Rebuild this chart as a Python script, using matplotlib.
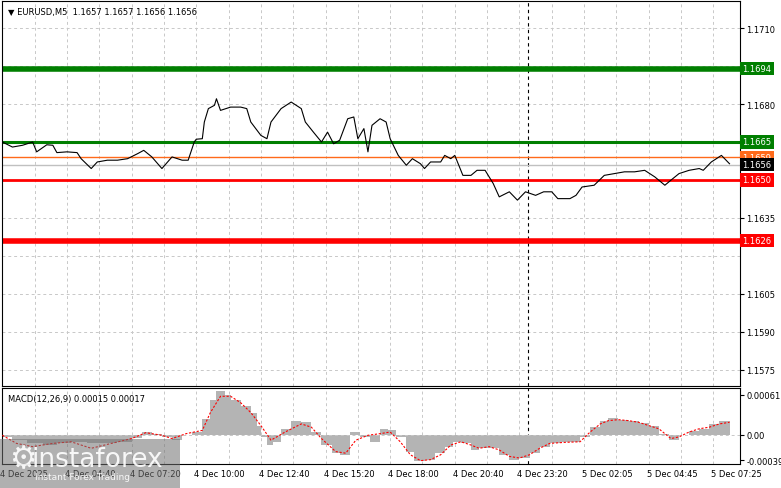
import numpy as np
import matplotlib.pyplot as plt
from matplotlib.patches import Rectangle

# price path (bar index, close)
price_bar = [0, 5, 10, 15, 17, 22, 25, 27, 32, 37, 39, 44, 47, 52, 57, 62, 67, 70, 74, 79, 84, 89, 92, 95, 96,
             99, 100, 102, 105, 106, 108, 113, 118, 121, 123, 128, 131, 133, 138, 143, 148, 150, 154, 158, 161,
             164, 167, 171, 174, 176, 179, 181, 183, 187, 190, 192, 196, 200, 203, 207, 209, 212, 217, 219, 222,
             224, 228, 232, 235, 239, 243, 246, 251, 255, 259, 264, 268, 272, 275, 281, 284, 287, 293, 298, 303,
             308, 313, 318, 323, 328, 331, 335, 340, 345, 347, 351, 356, 360]
price_val = [1.16650, 1.16630, 1.16637, 1.16650, 1.16611, 1.16639, 1.16637, 1.16608, 1.16611, 1.16608,
             1.16584, 1.16545, 1.16571, 1.16578, 1.16578, 1.16584, 1.16604, 1.16617, 1.16591, 1.16545,
             1.16591, 1.16578, 1.16578, 1.16650, 1.16661, 1.16663, 1.16729, 1.16782, 1.16795, 1.16821,
             1.16775, 1.16788, 1.16788, 1.16782, 1.16729, 1.16676, 1.16663, 1.16729, 1.16782, 1.16808,
             1.16782, 1.16729, 1.16689, 1.16650, 1.16689, 1.16643, 1.16657, 1.16742, 1.16749, 1.16663,
             1.16703, 1.16611, 1.16716, 1.16742, 1.16729, 1.16663, 1.16597, 1.16558, 1.16584, 1.16564,
             1.16545, 1.16571, 1.16571, 1.16597, 1.16584, 1.16597, 1.16518, 1.16518, 1.16538, 1.16538,
             1.16486, 1.16433, 1.16453, 1.16420, 1.16453, 1.16439, 1.16453, 1.16453, 1.16426, 1.16426,
             1.16439, 1.16472, 1.16479, 1.16518, 1.16525, 1.16532, 1.16532, 1.16538, 1.16512, 1.16479,
             1.16499, 1.16525, 1.16538, 1.16545, 1.16538, 1.16571, 1.16597, 1.16564]

# MACD histogram and signal (units of 1e-5)
hist_bar = [0, 5, 12, 20, 27, 34, 42, 49, 57, 64, 69, 74, 79, 84, 89, 94, 99, 103, 106, 110, 113, 118, 123,
            126, 128, 131, 134, 138, 143, 148, 153, 158, 163, 167, 172, 177, 182, 187, 191, 195, 200, 204, 209,
            214, 219, 223, 227, 232, 236, 241, 246, 251, 256, 261, 266, 271, 276, 281, 286, 291, 296, 300, 305,
            310, 315, 320, 325, 330, 335, 340, 345, 350, 355, 360]
hist_val = [-3.5, -8.5, -13.4, -15.9, -13.4, -10.9, -13.4, -13.4, -10.9, -5.0, 4.0, 1.5, -3.5, -8.5, -1.0,
            4.0, 23.9, 53.7, 66.2, 61.2, 53.7, 43.8, 33.8, 13.9, -3.5, -15.9, -10.9, 9.0, 21.4, 18.9, 4.0,
            -15.9, -28.4, -30.8, 4.0, -3.5, -10.9, 9.0, 6.5, -3.5, -25.9, -40.8, -38.3, -28.4, -18.4, -10.9,
            -13.4, -23.4, -20.9, -20.9, -30.8, -38.3, -35.8, -28.4, -18.4, -13.4, -11.9, -10.9, -3.5, 11.4,
            21.4, 24.9, 22.9, 21.4, 17.9, 13.9, 1.5, -8.5, -1.0, 5.0, 9.0, 16.4, 21.4, 21.4]
sig_bar = [0, 7, 15, 25, 34, 44, 54, 64, 71, 79, 84, 91, 99, 103, 108, 113, 118, 123, 128, 133, 140, 148,
           153, 158, 165, 170, 175, 181, 187, 192, 197, 202, 207, 212, 217, 222, 227, 232, 236, 241, 246, 251,
           256, 261, 266, 271, 278, 286, 291, 296, 300, 305, 310, 315, 320, 325, 331, 335, 340, 345, 350, 355, 360]
sig_val = [-1.0, -13.4, -18.4, -13.4, -10.9, -20.9, -13.4, -6.0, 3.0, -1.0, -6.0, 1.5, 6.5, 33.8, 58.7,
           58.7, 48.8, 33.8, 13.9, -8.5, 4.0, 16.4, 11.4, -6.0, -25.9, -28.4, -8.5, -1.0, 1.5, 4.0, -10.9,
           -30.8, -39.8, -38.3, -30.8, -15.9, -10.9, -15.9, -20.9, -18.4, -23.4, -33.3, -35.8, -30.8, -20.9,
           -13.4, -11.9, -10.9, 4.0, 16.4, 21.4, 22.9, 21.4, 18.9, 13.9, 9.0, -6.0, -3.5, 4.0, 9.0, 11.4,
           16.4, 18.9]

time_labels = ['4 Dec 2025', '4 Dec 04:40', '4 Dec 07:20', '4 Dec 10:00', '4 Dec 12:40', '4 Dec 15:20',
               '4 Dec 18:00', '4 Dec 20:40', '4 Dec 23:20', '5 Dec 02:05', '5 Dec 04:45', '5 Dec 07:25']
price_ticks = [1.1575, 1.1590, 1.1605, 1.1620, 1.1635, 1.1650, 1.1665, 1.1680, 1.1695, 1.1710]
shown_ticks = [1.1575, 1.1590, 1.1605, 1.1635, 1.1680, 1.1710]

# levels: value, colour, linewidth, label bg
levels = [(1.1694, '#007f00', 4, '#007f00'),
          (1.1665, '#007f00', 2.2, '#007f00'),
          (1.1659, '#ff6a1a', 1, '#ff6a1a'),
          (1.1656, '#c0c0c0', 1, 'black'),
          (1.1650, '#ff0000', 2, '#ff0000'),
          (1.1626, '#ff0000', 4, '#ff0000')]

n_bars = 365
fs = 6
fig = plt.figure(figsize=(7.81, 4.89), dpi=100)
ax = fig.add_axes([0.003, 0.2086, 0.944, 0.787])
ax2 = fig.add_axes([0.003, 0.049, 0.944, 0.155])

grid_kw = dict(color='#c8c8c8', linestyle=(0, (3, 3)), linewidth=0.7)
for a in (ax, ax2):
    a.set_xlim(0, n_bars)
    for b in range(16, n_bars, 16):
        a.axvline(b, zorder=0, **grid_kw)
    a.axvline(260, color='black', linestyle=(0, (3, 3)), linewidth=0.8, zorder=1)
    a.yaxis.tick_right()
    a.tick_params(axis='y', length=3, labelsize=fs, pad=2)
    a.set_xticks([])
    for s in a.spines.values():
        s.set_linewidth(0.8)

ax.set_ylim(1.15685, 1.17207)
for p in price_ticks:
    ax.axhline(p, zorder=0, **grid_kw)
ax.set_yticks(shown_ticks)
ax.set_yticklabels(['%.4f' % p for p in shown_ticks])
for val, col, lw, bg in levels:
    ax.axhline(val, color=col, linewidth=lw, zorder=2)
    ax.text(1.004, val, '%.4f' % val, transform=ax.get_yaxis_transform(), fontsize=fs,
            color='white', va='center', ha='left',
            bbox=dict(boxstyle='square,pad=0.25', fc=bg, ec='none'))
ax.plot(price_bar, price_val, color='black', linewidth=0.8, zorder=3)
ax.text(0.008, 0.985, '\u25bc EURUSD,M5  1.1657 1.1657 1.1656 1.1656', transform=ax.transAxes,
        fontsize=fs, va='top', ha='left')

# MACD
hb = np.array(hist_bar)
hv = np.array(hist_val) * 1e-5
ax2.set_ylim(-0.00045, 0.00071)
ax2.fill_between(hb, 0, hv, step='post', color='#b4b4b4', linewidth=0, zorder=2)
ax2.axhline(0, **grid_kw)
ax2.plot(sig_bar, np.array(sig_val) * 1e-5, color='red', linestyle=(0, (2, 1.5)), linewidth=0.8, zorder=3)
ax2.set_yticks([-0.00039, 0, 0.00061])
ax2.set_yticklabels(['-0.00039', '0.00', '0.00061'])
ax2.text(0.008, 0.93, 'MACD(12,26,9) 0.00015 0.00017', transform=ax2.transAxes, fontsize=fs,
         va='top', ha='left')

# time axis labels
for i, lab in enumerate(time_labels):
    ax2.text(i * 32 - 1, -0.06, lab, transform=ax2.get_xaxis_transform(), fontsize=fs,
             va='top', ha='left')

# watermark
fig.patches.append(Rectangle((0, 0), 180 / 781, 49 / 489, transform=fig.transFigure,
                             fc='#707070', alpha=0.55, ec='none', zorder=10))
fig.text(0.04, 0.06, 'instaforex', fontsize=19, color='white', alpha=0.9, zorder=11, va='center')
fig.text(0.045, 0.018, 'Instant Forex Trading', fontsize=6.5, color='white', alpha=0.9, zorder=11)
fig.text(0.012, 0.06, '\u2699', fontsize=22, color='white', alpha=0.9, zorder=11, va='center')

fig.savefig('out.png', dpi=100)
